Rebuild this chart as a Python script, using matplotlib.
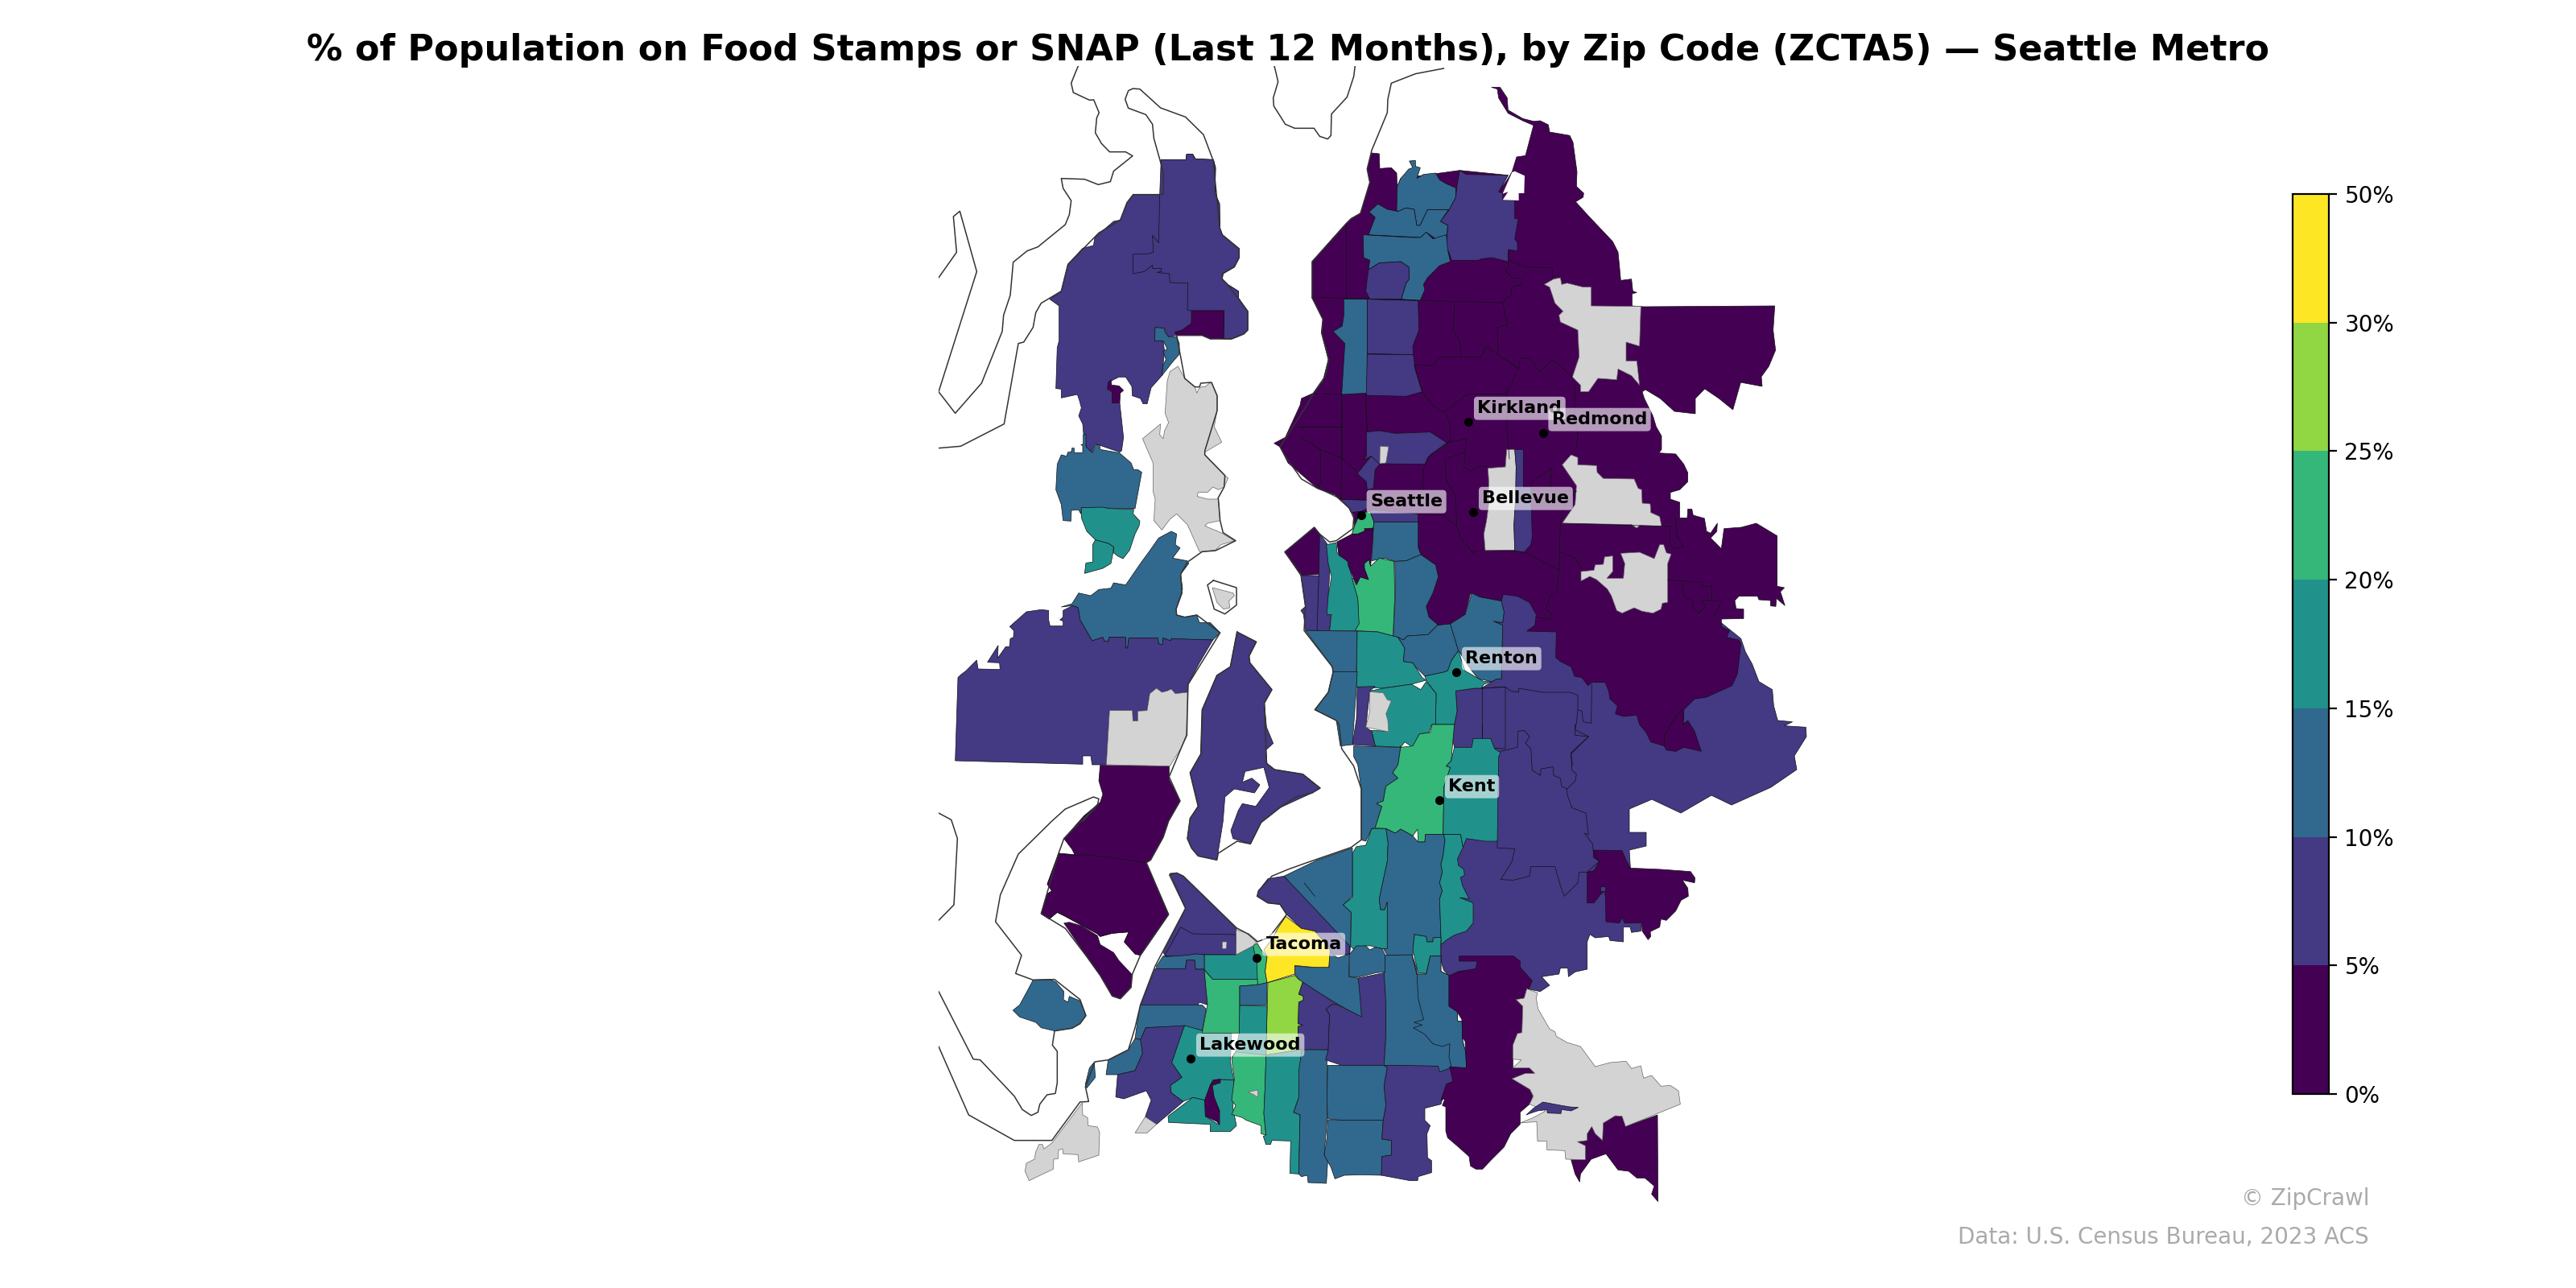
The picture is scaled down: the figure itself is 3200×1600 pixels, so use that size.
import numpy as np
import matplotlib
matplotlib.use("Agg")
import matplotlib.pyplot as plt
from matplotlib.colors import BoundaryNorm, ListedColormap
from matplotlib.cm import ScalarMappable
from matplotlib.patches import Polygon, Rectangle

TITLE = "% of Population on Food Stamps or SNAP (Last 12 Months), by Zip Code (ZCTA5) — Seattle Metro"
BIN_EDGES = [0, 5, 10, 15, 20, 25, 30, 50]
BIN_COLORS = ["#440154", "#443983", "#31688e", "#21918c", "#35b779", "#90d743", "#fde725"]
TICK_LABELS = ["0%", "5%", "10%", "15%", "20%", "25%", "30%", "50%"]
CITY_NAMES = ["Kirkland", "Redmond", "Seattle", "Bellevue", "Renton", "Kent", "Tacoma", "Lakewood"]
CITY_X = [1824.3, 1916.7, 1691.0, 1830.3, 1809.3, 1788.3, 1561.3, 1479.3]
CITY_Y = [524.3, 538.3, 640.3, 636.3, 835.3, 994.3, 1190.3, 1315.3]

# Map geometry is traced on survey sheets: each sheet has an origin and a scale of 1/3.
SHEETS = {"A": (1150, 90), "B": (1580, 90), "C": (1580, 500), "D": (1780, 500), "E": (1150, 540),
          "F": (1580, 900), "G": (1150, 1000), "H": (1400, 1100), "I": (1760, 1050)}

def T(*parts):
    out = []
    for sheet, text in zip(parts[0::2], parts[1::2]):
        ox, oy = SHEETS[sheet]
        for tok in text.split():
            x, y = tok.split(",")
            out.append((ox + float(x) / 3, oy + float(y) / 3))
    return out

N = float("nan")
ZONES = [
 # (value %, ring) in painter's order
 (7, T("D","262,715 400,600 800,600 1148,880 1165,930 1190,975 1215,1040 1265,1070 1270,1130 1285,1185 1340,1190 1310,1205 1390,1210 1392,1245 1347,1317 1356,1368 1260,1434 1113,1500 1038,1464 924,1530 816,1479 732,1515 732,1602 795,1602 795,1653 732,1668",
       "I","800,150 800,290 838,288 835,320 800,325 795,305 770,305 770,360 720,355 715,340 665,345 645,332 635,360 635,462 590,472 565,490 563,458 535,458 530,480 465,490 495,522 460,545 410,535 350,500 300,470 120,487 100,465 90,430",
       "F","630,860 630,400", "C","780,1600 780,1065 838,1030 855,1030 860,830 825,815 860,820 865,780 855,740 860,715")),
 (8, T("C","685,1075 755,1065 780,1065 870,1060 870,1290 745,1285 680,1285 672,1250 680,1200 690,1150")),
 (2, T("B","818,55 850,55 877,95 880,140 935,172 975,182 1000,180 1030,195 1035,222 1110,235 1122,260 1137,370 1135,425 1162,450 1160,465 1132,482 1180,535 1270,630 1290,670 1295,720 1300,775 1340,770 1345,815 1360,820 1342,825 1342,870 1386,873 1874,870 1868,960 1877,1035 1852,1095 1824,1134 1827,1170 1747,1155 1718,1257 1666,1215 1613,1179 1578,1215 1578,1272 1500,1263 1447,1215 1392,1182 1380,1190 1388,1215",
       "D","820,50 832,90 852,125 852,175 842,188 905,192 935,230 950,262 950,295 920,325 885,335 885,360 920,372 920,430 948,430 950,397 965,397 970,420 1012,432 1020,480 1035,487 1060,450 1058,480 1035,505 1075,545 1085,470 1150,465 1205,450 1283,497 1283,685 1310,690 1295,705 1312,757 1280,730 1278,760 1258,758 1258,738 1215,735 1210,722 1140,722 1125,738 1130,768 1158,770 1158,805 1075,807 1075,835 1105,850 1095,875 1140,885 1148,900 1135,1010 1115,1055 1020,1098 975,1105 935,1145 932,1200 950,1185 975,1225 1000,1300 980,1295 935,1285 905,1300 870,1295 862,1280 812,1265 795,1230 770,1200 760,1165 710,1170 680,1160 688,1130 660,1105 655,1075 642,1043 592,1043 578,1055 555,1025 528,1020 515,985 475,965 458,950 460,855 350,852 380,830 385,790 360,745 315,722 262,715 255,740 180,730 140,712",
       "C","720,790 665,825 630,838 585,800 575,760 600,710 620,650 610,605 555,567 545,540 545,445 380,445 378,470 370,520 365,610 360,650 318,655 285,610 282,590 250,570 243,520 300,490 308,460 305,420 290,395 235,345 170,320 60,225 30,165 8,152 50,130",
       "B","105,1240 110,1215 155,1195 190,1150 210,1070 185,970 190,920 150,840 150,705 275,565 295,545 330,525 365,410 355,360 372,300 400,303 402,358 445,355 465,375 467,425 480,395 700,365 880,383 845,445 880,395 895,370 912,315 945,310 975,197 935,180 880,152 845,95 840,62")),
 (8, T("B","700,365 725,380 880,383 845,445 860,450 860,475 905,477 905,545 918,545 912,580 905,620 915,635 915,665 882,660 880,705 820,690 780,695 770,700 670,700 660,670 650,655 655,570 628,555 658,515 685,465 690,420")),
 (11, T("B","465,515 467,425 480,395 510,360 525,355 512,330 535,328 535,350 553,355 540,395 565,380 610,375 625,400 650,415 685,430 685,465 660,512 580,512 552,570 540,570 530,510 500,505 470,518")),
 (12, T("B","362,520 395,490 430,510 470,518 500,505 530,510 540,570 552,570 580,512 658,512 628,555 655,570 652,605 610,620 575,595 555,615 360,605 385,540")),
 (12, T("B","340,605 520,615 555,615 575,595 600,620 650,605 655,660 665,705 625,720 580,765 565,790 570,810 552,850 482,845 500,785 512,770 510,725 480,705 400,710 360,735 365,700 342,690")),
 (8, T("B","360,735 400,710 480,705 510,725 512,770 500,785 482,845 365,845 350,815 355,770")),
 (12, T("B","268,845 355,845 355,1195 260,1200 272,1010 228,965 262,945 268,905")),
 (8, T("B","355,845 545,850 548,960 525,1020 527,1052 355,1048")),
 (8, T("B","355,1050 527,1052 535,1110 560,1190 500,1207 352,1203")),
 (8, T("C","352,110 400,105 460,115 590,110 655,152 590,195 570,230 403,228 390,230 370,200 340,215 352,200")),
 (7, T("C","318,265 370,200 402,230 385,250 378,320 355,325 352,295")),
 (8, T("C","255,362 355,362 355,395 335,405 295,410 285,390")),
 (8, T("C","370,400 545,415 545,445 380,445 365,405")),
 (22, T("C","325,420 345,410 365,405 380,445 378,468 345,470 345,480 320,490 298,490 308,460")),
 (12, T("C","380,445 545,445 545,540 555,567 500,590 460,592 420,580 372,590 378,470")),
 (12, T("C","555,567 610,605 620,650 600,710 575,760 585,800 630,838 615,830 582,865 505,870 490,885 470,875 452,870 460,720 458,592 500,590")),
 (22, T("C","340,600 362,585 368,610 400,580 455,592 458,720 452,860 452,870 395,855 310,850 322,825 320,730 303,680 298,655 318,655 330,650 360,660 345,620")),
 (2, T("C","48,557 158,465 178,490 178,640 108,645")),
 (8, T("C","108,645 175,645 172,850 125,848 118,790 108,775 125,760")),
 (8, T("C","178,490 205,525 218,600 210,720 220,790 215,850 168,850 175,645")),
 (17, T("C","203,530 240,522 243,560 285,595 300,660 320,730 325,825 310,850 215,850 222,790 205,790 210,720 222,650 210,600")),
 (2, T("C","243,520 300,490 320,490 345,480 378,468 375,520 368,610 362,585 345,600 345,620 360,660 330,650 315,680 285,610 282,590 250,570")),
 (12, T("C","125,850 318,852 315,1005 228,1003 225,985")),
 (17, T("C","318,852 395,855 470,875 495,915 490,965 525,970 560,1025 575,1035 520,1050 410,1065 315,1060")),
 (12, T("C","470,875 490,885 505,870 582,865 618,830 665,825 695,925 670,960 655,1000 640,1005 570,1020 535,985 525,970 490,965 495,915")),
 (12, T("C","665,825 720,790 745,710 775,725 855,740 865,780 860,820 825,815 860,830 855,1030 838,1030 820,1040 770,1030 745,1000 695,925")),
 (17, T("C","570,1020 640,1005 655,1000 670,960 695,925 720,1000 790,1040 820,1040 790,1050 780,1065 755,1065 685,1075 690,1150 680,1200 610,1200 612,1085 575,1035")),
 (17, T("C","415,1065 520,1050 555,1070 575,1040 612,1085 610,1200 595,1200 585,1230 550,1235 525,1285 495,1265 480,1285 385,1280 370,1222 435,1225 365,1075")),
 (8, T("C","318,1060 385,1058 365,1075 350,1210 372,1225 385,1280 300,1275 315,1180")),
 (12, T("C","228,1003 318,1003 315,1060 300,1275 255,1280 240,1185 160,1145 210,1080")),
 (12, T("F","305,80 475,85 480,80 470,150 450,180 470,200 425,230 415,285 390,295 410,305 385,385 372,388 350,435 333,430 333,240 320,150 305,120")),
 (22, T("F","480,85 525,80 550,35 590,30 597,0 680,0 668,135 650,155 665,160 640,235 640,300 638,410 572,410 570,438 545,438 543,390 525,415 480,390 460,405 425,388 385,385 410,305 390,295 415,285 425,230 470,200 450,180 470,150")),
 (17, T("F","680,85 745,85 750,52 815,52 830,90 852,105 845,120 840,435 795,435 725,425 712,458 703,410 638,410 640,300 640,235 665,160 650,155 668,135")),
 (17, T("F","372,388 425,388 433,440 430,510 400,650 405,690 420,690 430,660 430,835 410,835 385,830 370,825 345,825 320,855 293,825 295,700 265,672 300,645 300,480 315,455 350,450")),
 (12, T("F","425,388 460,405 480,390 525,415 545,438 570,438 572,410 640,410 645,430 638,490 630,520 635,550 625,590 635,620 625,650 630,795 600,795 598,810 578,810 575,790 530,782 525,860 430,860 415,835 430,835 430,660 420,690 405,690 400,650 430,510 433,440")),
 (17, T("F","640,410 703,410 712,458 692,500 695,525 715,540 718,562 703,570 710,600 735,650 700,645 750,665 750,740 725,770 680,785 655,800 630,820 630,795 625,650 635,620 625,590 635,550 630,520 638,490 645,430")),
 (12, T("F","45,565 170,505 300,460 300,640 265,672 295,700 293,825 290,855")),
 (8, T("H","490,20 525,-25 585,-35 830,225 828,258 757,258 725,200 700,170 650,160 595,108 570,70 525,65 485,40")),
 (12, T("F","85,900 155,905 213,905 215,845 245,870 290,855 287,940 320,945 335,1000 333,1090 280,1062 110,962 85,930")),
 (8, T("H","160,-45 185,-47 210,-35 408,158 407,258 290,258 275,255 255,255 225,265 145,265 135,250 148,225 218,85")),
 (8, T("H","140,262 200,155 245,180 405,183 407,258 290,258 255,255 225,265")),
 (12, T("H","110,300 135,262 145,265 225,260 255,255 288,258 288,312 255,312 252,278 222,278 218,310 110,310")),
 (8, T("H","105,310 218,310 222,278 252,278 255,312 288,312 300,445 270,435 262,450 145,445 50,445")),
 (12, T("G","800,745 1030,745 1045,760 1030,840 965,825 820,830 800,875 780,870 790,800")),
 (12, T("G","780,870 805,875 808,925 780,990 715,1005 672,1005 680,950 755,912")),
 (8, T("G","820,830 965,822 958,840 917,960 955,1015 912,1045 915,1072 960,1105 860,1190 818,1162 840,1100 822,1065 738,1095 708,1088 715,1005 780,990 808,925 800,875")),
 (17, T("G","965,822 1030,840 1035,850 1140,850 1135,955 1148,1025 1098,1022 1070,1025 1060,1045 1040,1100 995,1090 960,1105 915,1072 912,1045 955,1015 917,960 958,840")),
 (17, T("G","995,1090 1040,1100 1042,1160 1090,1190 1095,1140 1075,1090 1060,1045 1070,1025 1148,1025 1145,1130 1155,1180 1158,1195 1135,1217 1060,1217 1060,1190 905,1183 903,1160")),
 (2, T("G","1060,1045 1075,1025 1098,1022 1098,1035 1068,1045 1075,1090 1095,1140 1095,1192 1085,1180 1042,1160 1040,1100")),
 (22, T("H","288,315 320,350 490,350 485,370 420,375 420,550 280,550 300,445")),
 (17, T("H","290,258 407,258 470,225 485,255 490,350 320,350 290,315")),
 (22, T("H","470,225 485,215 500,240 522,265 515,320 522,362 487,372 484,290")),
 (35, T("H","592,115 650,160 700,170 725,200 757,240 752,305 700,305 625,298 625,330 522,362 515,320 522,265 510,240 540,200 565,155")),
 (27, T("H","525,362 625,335 640,350 655,360 640,405 657,412 657,428 640,435 638,515 655,520 638,525 638,550 655,610 518,632 520,550")),
 (12, T("H","420,375 485,370 522,362 520,447 420,445")),
 (17, T("H","420,447 522,450 518,632 390,640 405,620 418,550")),
 (22, T("H","390,645 405,620 518,632 515,740 510,850 518,930 500,925 500,895 445,875 430,865 390,853 405,820 390,800 400,720")),
 (17, T("H","518,632 652,612 645,690 640,790 620,845 645,855 640,1075 607,1073 610,952 540,950 535,965 518,965 508,935 518,930 510,850 515,740")),
 (12, T("H","652,612 752,612 745,660 748,800 745,880 735,1000 748,1030 743,1110 675,1107 672,1080 650,1085 640,1075 645,855 622,845 640,790 640,690")),
 (8, T("H","655,360 820,467 780,442 760,445 742,462 755,480 750,612 640,610 638,550 638,525 655,520 638,515 640,435 657,428 657,412 640,405")),
 (8, T("H","760,445 780,442 875,490 862,345 960,325 965,440 965,560 958,670 800,670 740,650 750,612 755,480 742,462")),
 (12, T("H","748,670 958,670 970,680 958,745 965,820 955,875 805,875 748,870 745,800")),
 (12, T("H","748,875 955,875 950,945 985,950 985,1005 950,1010 948,1080 875,1078 810,1080 775,1093 760,1050 735,1005 745,940")),
 (8, T("H","958,670 1095,670 1165,673 1165,695 1205,675 1215,735 1190,745 1170,815 1110,830 1110,875 1130,895 1118,925 1120,1015 1135,1025 1135,1070 1085,1085 1083,1100 1055,1100 948,1080 950,1010 985,1005 985,950 950,945 955,875 965,820 958,745 970,680")),
 (12, T("H","962,260 1062,258 1080,330 1115,330 1130,262 1170,262 1170,320 1200,335 1200,450 1232,470 1232,505 1250,505 1250,575 1262,620 1265,680 1205,680 1165,695 1160,673 1000,670 958,670 965,560 965,440 958,325")),
 (12, T("H","1062,258 1080,330 1115,330 1130,262 1170,262 1170,320 1200,335 1200,450 1232,470 1232,505 1250,505 1250,575 1262,620 1265,680 1210,680 1200,640 1203,590 1175,600 1140,590 1110,555 1067,530 1100,520 1070,510 1105,500 1085,420 1080,310")),
 (17, T("H","1072,183 1115,190 1118,210 1140,210 1143,195 1170,193 1168,262 1130,262 1115,328 1085,325 1065,240")),
 (12, T("H","828,258 855,225 890,225 905,240 925,230 950,235 962,258 962,322 930,325 860,342 828,340")),
 (2, T("I","658,18 765,20 780,55 795,85 910,90 1020,98 1037,122 1035,140 990,130 1010,160 1012,190 985,205 965,245 930,280 910,275 905,305 870,322 872,340 862,352 840,320 838,288 775,290 765,270 755,290 705,285 703,195 700,170 683,185 660,215 635,215 635,100 660,95 680,60 658,45")),
 (8, T("I","685,152 702,152 702,170 685,170")),
 (2, T("I","158,413 360,413 385,432 385,455 430,505 420,530 400,570 370,575 395,600 392,698 375,702 358,745 358,797 358,830 405,830 425,830 440,850 355,870 420,910 432,935 420,965 385,995 385,1040 350,1075 325,1125 295,1155 275,1175 245,1207 220,1207 200,1195 195,1160 150,1120 115,1090 108,1065 108,975 95,970 105,945 90,950 110,890 135,880 122,825 185,830 180,730 170,720 168,650 150,620 120,600 120,487 155,470 190,465 220,460 225,432 158,432")),
 (2, T("I","575,1172 628,1172 628,1120 598,1120 598,1105 635,1100 635,1075 652,1048 670,1070 690,1100 695,1035 740,1008 765,1010 778,1048 897,1005 899,1328 875,1300 885,1270 850,1240 820,1240 790,1215 750,1210 705,1150 650,1170 610,1225 607,1255 590,1225")),
 # Kitsap and the islands
 (8, T("A","877,325 970,325 972,305 995,305 1005,322 1072,325 1080,355 1078,450 1095,490 1096,580 1105,605 1168,657 1168,690 1150,725 1108,750 1105,770 1125,790 1165,815 1165,840 1200,890 1200,960 1185,975 1140,993 1110,993 1055,990 1030,978 935,980 900,985 890,955 855,950 853,1000 885,1000 890,1040 880,1130 840,1175 825,1235 810,1235 800,1215 770,1205 768,1170 745,1135 720,1135 690,1150 680,1155 680,1185 695,1190 695,1230 723,1232 737,1360 730,1410 722,1415 650,1390 630,1385 620,1415 600,1400 590,1370 585,1310 570,1280 580,1250 572,1220 565,1200 505,1213 505,1180 485,1178 490,1025 497,1000 497,870 462,845 505,815 530,715 585,655 625,645 630,615 700,555 725,550 750,485 773,455 877,455")),
 (8, T("A","877,325 970,325 972,305 995,305 1005,322 1072,325 1080,355 1078,450 1095,490 1096,580 1105,605 1168,657 1168,690 1150,725 1108,750 1105,770 1125,790 1165,815 1165,840 1200,890 1200,960 1185,975 1140,993 1110,993 1112,888 990,888 975,885 977,785 910,783 908,750 862,745 878,742 878,730 845,730 845,718 815,742 773,750 772,677 825,677 848,670 845,607 868,635 872,455")),
 (2, T("A","990,888 1112,888 1110,990 1060,993 1030,978 935,980 928,968 955,960 990,935")),
 (12, T("A","855,950 890,953 890,965 905,985 935,985 945,1010 945,1050 915,1085 880,1130 885,1090 895,1070 885,1040 900,1030 885,1000 853,1000")),
 (2, T("A","680,1155 690,1145 693,1165 720,1168 737,1185 725,1195 723,1232 695,1232 695,1190 677,1180")),
 (12, T("E","505,75 525,80 530,65 542,65 545,50 553,50 553,67 585,67 585,40 578,38 587,35 587,0 597,0 597,45 622,68 632,38 648,38 650,55 722,68 765,105 775,130 790,130 805,140 780,275 580,272 578,295 570,280 543,282 541,322 512,320 505,260 485,205 490,110")),
 (17, T("E","580,272 660,270 680,275 775,278 773,295 798,322 795,340 780,370 760,430 735,462 715,452 700,440 700,418 680,405 632,392 600,360 580,310")),
 (17, T("E","632,392 680,405 700,418 698,440 690,480 660,498 592,517 597,478 622,475 622,410")),
 (12, T("E","505,642 545,630 570,590 615,600 645,577 690,572 700,552 745,560 800,480 835,432 868,385 915,360 935,370 930,410 948,422 920,460 975,470 980,480 950,520 957,575 933,650 935,672 965,680 1010,672 1020,700 1060,700 1097,738 1070,765 930,762 915,760 912,768 885,758 882,782 868,780 865,758 757,758 752,795 745,795 745,755 683,755 680,772 665,768 660,755 620,768 575,690 568,645 548,637")),
 (8, T("E","120,905 130,895 150,880 190,840 195,873 277,875 275,850 230,848 270,785 268,833 298,790 312,790 315,760 327,755 328,730 313,715 375,660 430,652 458,655 458,690 463,713 512,713 512,695 500,690 512,680 512,655 548,637 568,645 575,690 620,768 660,755 665,768 680,772 683,755 745,755 745,795 752,795 757,758 865,758 868,780 882,782 885,758 912,768 915,760 1070,765 1020,850 978,930 975,960 930,965 915,948 900,955 880,960 860,945 835,965 825,1028 790,1030 790,1067 772,1067 770,1028 685,1028 673,1230 620,1230 615,1197 585,1197 585,1228 110,1215")),
 (8, T("E","1160,735 1232,772 1205,825 1208,850 1290,950 1262,1000 1270,1090 1295,1150 1268,1175 1272,1225 1300,1248 1405,1265 1470,1317 1440,1335 1320,1390 1270,1430 1250,1445 1210,1525 1145,1505 1137,1475 1165,1400 1180,1375 1230,1385 1280,1315 1260,1240 1190,1255 1180,1295 1215,1280 1245,1305 1225,1335 1150,1320 1115,1350 1108,1440 1085,1585 1015,1570 990,1540 975,1505 985,1430 1015,1385 985,1260 1025,1190 1030,1025 1085,897 1135,865")),
 (2, T("G","650,-148 907,-145 907,-95 948,-15 905,60 885,120 838,205 822,215 905,408 800,560 780,555 740,510 757,473 695,478 650,490 640,480 520,415 490,400 460,425 430,405 455,330 470,320 453,295 495,180 555,185 545,165 515,125 590,40 650,-10 660,-40 645,-90")),
 (2, T("G","495,180 555,188 600,185 685,195 822,215 905,408 800,560 780,555 740,510 757,473 695,478 650,490 640,480 520,415 490,400 460,425 430,405 455,330 470,320 453,295")),
 (2, T("G","515,440 535,437 580,450 640,487 650,520 700,550 720,580 767,630 765,680 725,722 695,712 650,635 600,565")),
 (12, T("G","400,652 465,650 485,660 515,695 513,725 530,735 535,713 575,730 597,785 575,815 545,832 480,842 430,830 410,810 350,790 325,765 350,745 380,690")),
 (12, T("G","628,958 632,1015 600,1055 595,1040 610,980")),
 # no data
 (N, T("A","940,1095 965,1140 1003,1172 1010,1195 1018,1178 1030,1170 1040,1172 1055,1160 1065,1155 1086,1205 1086,1260 1075,1320 1103,1378 1040,1415",
       "E","1040,75 1115,152 1127,162 1112,195 1090,205 1070,195 1050,215 1015,215 1012,230 1050,240 1085,240 1090,235 1097,320 1050,330 1040,340 1100,365 1150,395 1100,410 1080,430 1030,436 1020,435 975,335 935,295 910,315 880,355 850,320 855,240 847,210 847,105 808,15",
       "A","875,1310 872,1350 885,1365 890,1335 905,1305 892,1270 900,1150 910,1115")),
 (N, T("E","685,1028 770,1028 772,1067 790,1067 790,1030 825,1028 835,965 860,945 880,960 900,955 915,948 930,965 975,960 975,1120 950,1170 910,1235 673,1230")),
 (N, T("B","1015,790 1050,770 1075,765 1080,790 1100,785 1160,800 1190,800 1190,870 1375,872 1370,1020 1320,1005 1320,1075 1360,1075 1370,1165 1340,1130 1290,1105 1285,1145 1215,1140 1180,1190 1150,1190 1150,1165 1120,1135 1145,1060 1140,960 1075,930 1070,905 1085,890 1055,860 1035,800")),
 (N, T("C","875,175 905,175 910,240 908,360 902,455 905,550 795,552 790,490 800,440 808,380 808,290 805,245 870,240")),
 (8, T("C","905,175 937,175 937,315 965,315 970,500 965,530 940,558 905,555 902,455 908,360 910,240")),
 (N, T("D","515,195 540,205 540,232 610,235 612,260 635,283 750,285 765,320 778,325 780,375 810,378 812,410 845,425 852,460 770,458 760,468 740,455 482,450 530,380 535,310 482,232")),
 (N, T("D","552,630 600,625 605,605 635,603 640,575 670,572 670,630 648,655 710,655 715,600 700,562 770,558 825,582 845,530 860,530 870,560 888,565 875,600 875,745 855,748 850,770 820,785 780,778 750,765 705,785 685,775 665,720 650,695 610,660 585,648 552,665")),
 (N, T("C","365,1078 415,1082 430,1108 445,1112 425,1160 432,1185 435,1227 350,1210 365,1150")),
 (N, T("C","403,163 435,165 425,225 402,228")),
 (N, T("I","410,535 450,550 445,570 452,610 495,685 515,695 520,712 560,735 610,750 665,825 720,810 780,805 800,832 835,822 845,868 875,858 910,898 945,895 975,915 982,965 778,1048 765,1010 740,1008 695,1035 692,1100 665,1075 652,1048 635,1075 635,1100 598,1105 628,1120 628,1172 555,1170 552,1138 485,1135 485,1103 450,1103 447,1030 385,1035 435,1015 480,990 420,965 435,935 422,910 355,870 405,850 440,850 420,830 358,830 390,800 358,797 358,745 375,702 392,698 395,600 370,575 400,570")),
 (8, T("I","408,1005 435,980 470,957 540,970 570,975 602,977 575,990 540,985 537,1000 487,998 485,985 450,990 420,1000")),
 (N, T("G","583,1110 585,1155 603,1165 605,1195 640,1200 648,1220 645,1305 570,1330 567,1303 512,1300 510,1282 495,1285 493,1318 477,1320 475,1357 385,1400 370,1365 375,1335 405,1320 410,1293 422,1265 435,1265 440,1282 470,1260")),
 (N, T("G","818,1162 860,1190 825,1222 780,1222")),
 (N, T("H","407,165 455,180 485,205 470,225 407,258")),
 (N, T("H","355,210 372,210 370,235 355,235")),
 (N, T("H","450,770 488,762 488,790 470,778")),
 (N, T("E","1068,570 1145,590 1150,600 1130,620 1133,645 1110,650 1085,625")),
]
ZONE_VALUES = [z[0] for z in ZONES]
ZONE_RINGS = [z[1] for z in ZONES]

WATER_HOLES = [T("B","895,372 905,368 942,385 940,450 920,450 920,477 860,475 880,445 860,452")]

DIVIDERS = [T("B", s) for s in [
    "148,838 860,858", "275,565 275,840", "260,1200 262,1440", "350,1200 355,1340", "155,1198 262,1200", "95,1320 262,1320",
    "680,858 677,965 700,995 705,1060 780,1060 800,1020 840,1050", "530,1090 600,1092 625,1060 705,1060",
    "860,858 878,940 840,950 843,1055 880,1075 920,1105 925,1065 960,1065 1000,1115 1045,1070 1120,1135",
    "530,1090 560,1190 600,1240 640,1268 730,1198 875,1198 910,1120", "875,1170 875,1320 885,1440",
    "650,1270 665,1320 665,1370 650,1385", "882,660 880,735 870,740 895,765 930,770 930,790 895,800 890,830 860,855",
    "885,700 940,725 1045,728 1045,765", "1130,1170 1128,1290 1140,1340 1135,1400"]] + [T("C", s) for s in [
    "95,90 262,90", "108,130 180,175 258,205 315,255", "180,175 182,290 175,320 255,360 360,365", "262,0 258,360", "350,0 355,105",
    "650,150 725,135 720,185 645,210 650,290 685,350 688,460 705,510 750,560 790,545", "720,185 715,240 740,255 770,238 805,238",
    "560,385 565,250 580,205 650,150", "545,415 640,420 685,460",
    "795,552 905,552 940,558 1070,625 1075,450 1085,395 1135,330 1040,330 1040,245 970,295 965,315",
    "1075,555 1130,580 1155,620", "782,1060 782,1250",
    "780,1065 870,1060 890,1075 920,1080 920,1065 1010,1080 1110,1080 1140,1090 1140,1145 1155,1150 1160,1190 1190,1195 1192,1050",
    "1140,1145 1135,1195 1130,1220 1180,1245 1115,1310 1120,1350"]] + [T("D", s) for s in [
    "470,620 462,710 440,715 420,770 445,790 440,808 385,800",
    "875,662 930,665 935,725 970,740 968,765 990,785 1015,760 1000,735 1075,742 1045,798",
    "935,665 1000,670 1000,685 1040,685 1040,735", "480,450 885,462 882,520 895,545 935,538 910,500 905,430",
    "932,1145 932,1200", "862,1240 905,1170 930,1145", "862,1240 862,1280"]] + [T("F", s) for s in [
    "782,0 782,50", "852,100 915,85 917,25 940,22 960,45 945,70 965,90 970,170 1000,190 1003,165 1048,158 1050,190 1075,200 1080,230 1100,240 1115,225 1130,210 1135,185 1118,170 1115,105 1180,45 1130,40 1130,0",
    "1100,240 1100,260 1118,310 1170,330 1180,410 1165,405 1195,445 1198,475 1220,510 1175,550 1145,550 1140,590 1090,640 1075,600 1055,530 965,530 960,565 900,580 853,578 895,510 905,463 840,460 840,435"]] + [
    T("H", "660,-10 700,40")]

COASTS = [
    T("A","48,765 115,670 103,537 127,517 190,742 48,1190 110,1270 208,1158 285,965 290,905 315,830 326,707 378,665 418,650 520,567 535,530 542,478 512,432 505,395 592,398 643,418 688,407 700,368 771,311 745,296 685,296 655,265 632,225 637,170 646,150 626,102 610,103 550,75 542,40 558,0 575,-40"),
    T("A","1295,-40 1305,0 1313,35 1295,95 1297,125 1340,193 1375,208 1440,208",
      "B","157,208 178,238 208,248 220,235 222,155 280,92 305,15 312,-40"),
    T("A","48,1400 130,1393 292,1310 345,1010 365,1005 400,950 410,895 430,860 505,815 530,715 645,598 725,550 750,485 773,455 885,455 885,370 850,245 845,193 820,157 755,133 743,100 755,68 772,60 798,62 875,132 968,166 1035,232 1072,330 1078,400 1096,580 1105,605 1168,657 1168,690 1150,725 1105,750 1105,770 1125,790 1200,890 1200,960 1185,975 1140,993 1060,993 1030,980 935,980 965,1140 1003,1172 1020,1172 1025,1158 1065,1155 1086,1205 1086,1260 1040,1410",
      "E","1040,75 1115,152 1112,195 1090,235 1097,320 1108,365 1155,395 1080,432 1030,436 975,475 950,520 955,590 933,650 935,672 965,680 1010,672 1097,738 1065,790 978,930 972,1120 907,1275 948,1365 905,1440",
      "G","885,120 838,205 822,215 905,408 800,560 770,630 765,680 725,722 695,712 650,635 600,565 520,460 430,405 495,180 515,125 640,0 585,60",
      "E","640,1380 645,1357 625,1350 520,1395 470,1440",
      "G","345,183 278,335 260,435 357,560 335,628 400,652 480,650 575,725 597,785 575,815 545,832 480,842 472,895 490,918 490,1035 483,1075 452,1080 425,1115 418,1145 393,1157 360,1135 330,1085 203,950 177,947 48,695"),
    T("G","48,900 160,1155 330,1250 470,1250 575,1107 607,1105 595,1050 630,957 680,950 755,912 780,830 800,745 855,600 968,385 908,260 935,253 960,265 1158,458 1200,480 1235,510",
      "H","525,195 540,180 595,108 570,70 525,65 485,40 490,20 540,-35",
      "F","60,540 130,515 295,458 333,430 333,240 305,155 260,90 250,0",
      "C","240,1185 160,1145 210,1080 228,1005 225,985 120,850 125,760 108,640 48,557 158,465 178,490 215,520 240,515 302,470 305,430 290,395 235,345 170,320 110,285 50,200 30,165",
      "B","130,1240 155,1195 200,1130 212,1070 185,970 190,920 150,840 150,705 275,565 295,545 330,525 365,410 355,360 372,290 430,150 432,100 445,40 535,5 640,-15"),
    T("E","1160,735 1232,772 1205,825 1208,850 1290,950 1262,1000 1270,1225 1300,1248 1405,1265 1470,1317 1440,1335 1380,1350 1320,1390 1250,1445 1210,1525 1160,1515 1090,1560 1085,1585 1015,1570 990,1540 975,1505 985,1430 1015,1385 985,1260 1025,1190 1030,1025 1085,897 1135,865 1160,735"),
    T("E","1072,543 1158,570 1158,635 1115,668 1075,650 1050,560 1072,543"),
    T("G","48,30 95,55 118,125 105,372 48,430"),
]
COAST_CLIP = (1166, 82, 1090, 1420)

cmap = ListedColormap(BIN_COLORS)
norm = BoundaryNorm(BIN_EDGES, cmap.N)

fig = plt.figure(figsize=(16, 8), dpi=200, facecolor="white")
ax = fig.add_axes([0, 0, 1, 1])
ax.set_xlim(0, 3200)
ax.set_ylim(1600, 0)
ax.set_axis_off()

for value, ring in zip(ZONE_VALUES, ZONE_RINGS):
    if np.isnan(value):
        ax.add_patch(Polygon(ring, closed=True, facecolor="#d3d3d3", edgecolor="#666666", linewidth=0.25, zorder=2))
    else:
        ax.add_patch(Polygon(ring, closed=True, facecolor=cmap(norm(value)), edgecolor="#111111", linewidth=0.25, zorder=2))
for ring in WATER_HOLES:
    ax.add_patch(Polygon(ring, closed=True, facecolor="white", edgecolor="none", zorder=2.2))
for line in DIVIDERS:
    xs, ys = zip(*line)
    ax.plot(xs, ys, color="#111111", lw=0.25, zorder=2.5, solid_joinstyle="round")
clip = Rectangle(COAST_CLIP[:2], COAST_CLIP[2], COAST_CLIP[3], transform=ax.transData)
for line in COASTS:
    xs, ys = zip(*line)
    l, = ax.plot(xs, ys, color="#333333", lw=0.55, zorder=3, solid_joinstyle="round")
    l.set_clip_path(clip)

ax.scatter(CITY_X, CITY_Y, s=16, color="black", zorder=5, linewidths=0)
for name, x, y in zip(CITY_NAMES, CITY_X, CITY_Y):
    ax.annotate(name, (x, y), xytext=(4, 4), textcoords="offset points", fontsize=8, fontweight="bold",
                color="black", zorder=6,
                bbox=dict(boxstyle="round,pad=0.2", facecolor="white", edgecolor="none", alpha=0.6))

fig.text(0.5, 1 - 62 / 1600, TITLE, ha="center", va="center", fontsize=16, fontweight="bold", color="black")
fig.text(2943 / 3200, 1 - 1489 / 1600, "© ZipCrawl", ha="right", va="center", fontsize=10, color="#aaaaaa")
fig.text(2943 / 3200, 1 - 1537 / 1600, "Data: U.S. Census Bureau, 2023 ACS", ha="right", va="center", fontsize=10, color="#aaaaaa")

cax = fig.add_axes([2848 / 3200, 1 - 1359 / 1600, 45 / 3200, 1118 / 1600])
cb = fig.colorbar(ScalarMappable(norm=norm, cmap=cmap), cax=cax, spacing="uniform", ticks=BIN_EDGES)
cb.ax.set_yticklabels(TICK_LABELS)
cb.ax.tick_params(labelsize=10, length=3.5, width=0.8)

fig.savefig("out.png", dpi=200)
